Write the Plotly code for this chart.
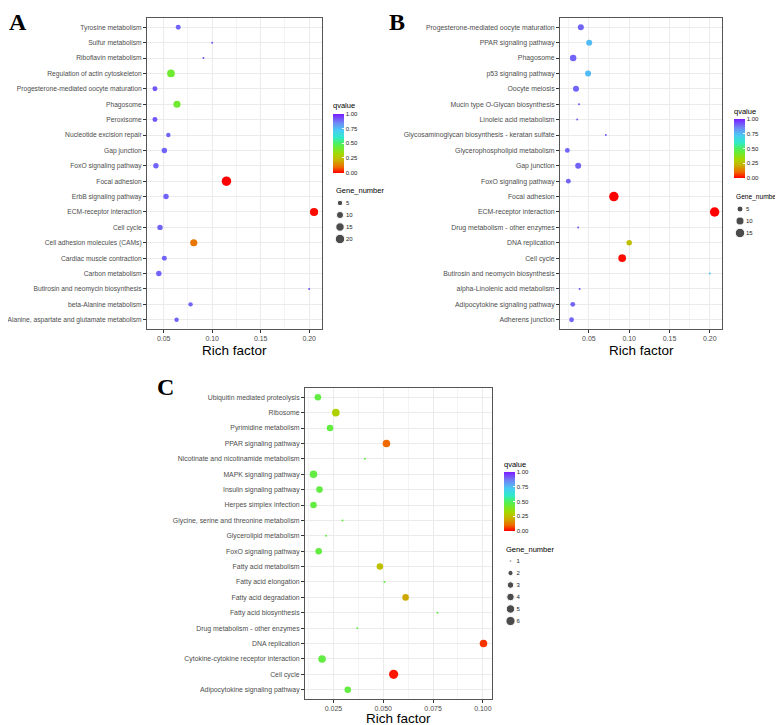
import math
import plotly.graph_objects as go

# the page body has an 8px default margin, so the figure is sized to the
# visible area and reference pixel positions are shifted by OFF
OFF = 8
W, H = 783 - OFF, 725 - OFF

# ---------------- data ----------------
# Panel A (listed top to bottom as in the figure)
path_A = ["Tyrosine metabolism", "Sulfur metabolism", "Riboflavin metabolism",
          "Regulation of actin cytoskeleton", "Progesterone-mediated oocyte maturation",
          "Phagosome", "Peroxisome", "Nucleotide excision repair", "Gap junction",
          "FoxO signaling pathway", "Focal adhesion", "ErbB signaling pathway",
          "ECM-receptor interaction", "Cell cycle", "Cell adhesion molecules (CAMs)",
          "Cardiac muscle contraction", "Carbon metabolism",
          "Butirosin and neomycin biosynthesis", "beta-Alanine metabolism",
          "Alanine, aspartate and glutamate metabolism"]
rich_A = [0.065, 0.100, 0.091, 0.0575, 0.041, 0.0637, 0.041, 0.0548, 0.0507, 0.042,
          0.1147, 0.0524, 0.205, 0.0462, 0.081, 0.0507, 0.045, 0.200, 0.0777, 0.0633]
genes_A = [4, 1, 1, 12, 4, 10, 4, 3, 5, 5, 20, 5, 14, 5, 10, 4, 5, 1, 3, 3]
q_A = [0.90, 0.92, 0.92, 0.42, 0.92, 0.42, 0.92, 0.90, 0.90, 0.90,
       0.00, 0.90, 0.01, 0.90, 0.12, 0.90, 0.90, 0.93, 0.90, 0.90]
legend_genes_A = [5, 10, 15, 20]

# Panel B
path_B = ["Progesterone-mediated oocyte maturation", "PPAR signaling pathway", "Phagosome",
          "p53 signaling pathway", "Oocyte meiosis", "Mucin type O-Glycan biosynthesis",
          "Linoleic acid metabolism", "Glycosaminoglycan biosynthesis - keratan sulfate",
          "Glycerophospholipid metabolism", "Gap junction", "FoxO signaling pathway",
          "Focal adhesion", "ECM-receptor interaction", "Drug metabolism - other enzymes",
          "DNA replication", "Cell cycle", "Butirosin and neomycin biosynthesis",
          "alpha-Linolenic acid metabolism", "Adipocytokine signaling pathway",
          "Adherens junction"]
rich_B = [0.040, 0.0504, 0.0305, 0.049, 0.034, 0.0378, 0.0355, 0.071, 0.0233, 0.0367,
          0.0245, 0.081, 0.206, 0.0367, 0.100, 0.0913, 0.200, 0.0385, 0.030, 0.0285]
genes_B = [5, 5, 6, 5, 5, 1, 1, 1, 3, 5, 3, 15, 15, 1, 4, 9, 1, 1, 3, 3]
q_B = [0.90, 0.75, 0.90, 0.75, 0.90, 0.92, 0.92, 0.92, 0.90, 0.90,
       0.90, 0.00, 0.00, 0.92, 0.25, 0.01, 0.74, 0.92, 0.90, 0.90]
legend_genes_B = [5, 10, 15]

# Panel C
path_C = ["Ubiquitin mediated proteolysis", "Ribosome", "Pyrimidine metabolism",
          "PPAR signaling pathway", "Nicotinate and nicotinamide metabolism",
          "MAPK signaling pathway", "Insulin signaling pathway", "Herpes simplex infection",
          "Glycine, serine and threonine metabolism", "Glycerolipid metabolism",
          "FoxO signaling pathway", "Fatty acid metabolism", "Fatty acid elongation",
          "Fatty acid degradation", "Fatty acid biosynthesis",
          "Drug metabolism - other enzymes", "DNA replication",
          "Cytokine-cytokine receptor interaction", "Cell cycle",
          "Adipocytokine signaling pathway"]
rich_C = [0.0172, 0.0262, 0.0233, 0.0516, 0.0408, 0.0150, 0.0180, 0.0150, 0.0295, 0.0213,
          0.0176, 0.0483, 0.0506, 0.0612, 0.0772, 0.0370, 0.1003, 0.0193, 0.0552, 0.0322]
genes_C = [3, 4, 3, 4, 1, 4, 3, 3, 1, 1, 3, 3, 1, 3, 1, 1, 4, 4, 6, 3]
q_C = [0.45, 0.30, 0.45, 0.10, 0.45, 0.45, 0.45, 0.45, 0.45, 0.45,
       0.45, 0.25, 0.45, 0.20, 0.45, 0.45, 0.05, 0.45, 0.02, 0.45]
legend_genes_C = [1, 2, 3, 4, 5, 6]

qvalue_ticks = [0.0, 0.25, 0.5, 0.75, 1.0]
x_title = "Rich factor"

# ---------------- styling ----------------
FONT = "Liberation Sans"
COLORSCALE = [
    [0.00, "#FF0000"], [0.10, "#EE6A00"], [0.22, "#C8B400"], [0.32, "#A6D800"],
    [0.42, "#70EA30"], [0.50, "#4CF060"], [0.60, "#30EAC8"], [0.72, "#48CCF4"],
    [0.85, "#6E88F4"], [1.00, "#7A1CFF"],
]


def px_x(p):
    return (p - OFF) / W


def px_y(p):
    return 1 - (p - OFF) / H


def size_scale(n, nmin, nmax, dmin=2.0, dmax=9.5):
    t = 0 if nmax == nmin else (n - nmin) / (nmax - nmin)
    return dmin + (dmax - dmin) * math.sqrt(max(t, 0))


def expand(vals, frac=0.05):
    lo, hi = min(vals), max(vals)
    d = (hi - lo) * frac
    return [lo - d, hi + d]


fig = go.Figure()

panels = [
    # name, paths, rich, genes, q, legend, axis id, dmax, x px, y px, dtick, fmt, ylabel font, x-title y px
    ("A", path_A, rich_A, genes_A, q_A, legend_genes_A, "", 9.5, (147, 322), (18, 329), 0.05, ".2f", 6.7, 350),
    ("B", path_B, rich_B, genes_B, q_B, legend_genes_B, "2", 9.5, (560, 722), (18, 329), 0.05, ".2f", 6.9, 350),
    ("C", path_C, rich_C, genes_C, q_C, legend_genes_C, "3", 9.2, (305, 492), (388, 699), 0.025, ".3f", 6.9, 718),
]

# colorbar (left px, bar bottom px) + size-legend placement (reference px)
cbar_pos = {"A": (333, 172.7), "B": (734, 178), "C": (504, 531)}
leg_pos = {"A": (340, 203, 191, 334, 7.5), "B": (740, 209, 197, 734, 6.6), "C": (510.5, 561, 549, 504, 7.5)}
leg_axis = {"A": "4", "B": "5", "C": "6"}

layout_axes = {}
annotations = []

for (name, paths, rich, genes, q, leg_genes, ax, dmax, xd, yd, dtick, fmt, yfs, ty_title) in panels:
    nmin, nmax = min(genes), max(genes)
    ca = "coloraxis" + ax
    fig.add_trace(go.Scatter(
        x=rich, y=paths, mode="markers",
        marker=dict(size=[size_scale(g, nmin, nmax, 2.0, dmax) for g in genes],
                    color=q, coloraxis=ca, line=dict(width=0), opacity=1),
        xaxis="x" + ax, yaxis="y" + ax, showlegend=False, hoverinfo="x+y",
    ))
    n = len(paths)
    layout_axes["xaxis" + ax] = dict(
        domain=[px_x(xd[0]), px_x(xd[1])], anchor="y" + ax, automargin=False,
        range=expand(rich), dtick=dtick, tick0=0, tickformat=fmt,
        showgrid=True, gridcolor="#EBEBEB", gridwidth=1,
        minor=dict(dtick=dtick / 2, tick0=0, showgrid=True, gridcolor="#F4F4F4", gridwidth=0.6),
        showline=True, mirror=True, linecolor="#555555", linewidth=1,
        ticks="outside", ticklen=3, tickwidth=1, tickcolor="#333333",
        tickfont=dict(family=FONT, size=7, color="#4D4D4D"),
        zeroline=False,
    )
    layout_axes["yaxis" + ax] = dict(
        domain=[px_y(yd[1]), px_y(yd[0])], anchor="x" + ax, automargin=False,
        type="category", categoryorder="array", categoryarray=list(reversed(paths)),
        range=[-0.6, n - 1 + 0.6],
        showgrid=True, gridcolor="#EBEBEB", gridwidth=1,
        showline=True, mirror=True, linecolor="#555555", linewidth=1,
        ticks="outside", ticklen=3, tickwidth=1, tickcolor="#333333",
        tickfont=dict(family=FONT, size=yfs, color="#4D4D4D"),
        zeroline=False,
    )
    # x-axis title placed as an annotation under the panel
    annotations.append(dict(text=x_title, x=px_x((xd[0] + xd[1]) / 2), y=px_y(ty_title),
                            xref="paper", yref="paper", xanchor="center", yanchor="middle",
                            showarrow=False, borderpad=0,
                            font=dict(family=FONT, size=13.5, color="#000000")))

    cx, cb = cbar_pos[name]
    layout_axes[ca] = dict(
        cmin=0, cmax=1, colorscale=COLORSCALE,
        colorbar=dict(
            x=px_x(cx), xanchor="left", xpad=0, y=px_y(cb), yanchor="bottom", ypad=0,
            len=73, lenmode="pixels", thickness=11, outlinewidth=0,
            tickvals=qvalue_ticks, tickformat=".2f", ticks="inside", ticklen=2,
            tickcolor="white", tickfont=dict(family=FONT, size=6, color="#222222"),
            title=dict(text="qvalue", side="top", font=dict(family=FONT, size=7.5, color="#000000")),
        ),
    )

    # size legend drawn on an auxiliary hidden axis
    sx, sy0, ty, tx, tfs = leg_pos[name]
    la = leg_axis[name]
    k = len(leg_genes)
    labels = [str(g) for g in leg_genes]
    fig.add_trace(go.Scatter(
        x=[0] * k, y=labels, mode="markers",
        marker=dict(size=[size_scale(g, nmin, nmax, 2.0, dmax) for g in leg_genes], color="black"),
        xaxis="x" + la, yaxis="y" + la, showlegend=False, hoverinfo="skip",
    ))
    fig.add_trace(go.Scatter(
        x=[6] * k, y=labels, mode="text", text=labels, textposition="middle right",
        textfont=dict(family=FONT, size=6, color="#222222"),
        xaxis="x" + la, yaxis="y" + la, showlegend=False, hoverinfo="skip",
    ))
    top = sy0 - 6
    bot = sy0 + 12 * k - 6
    layout_axes["xaxis" + la] = dict(domain=[px_x(sx - 10), px_x(sx + 30)], range=[-10, 30],
                                     visible=False, anchor="y" + la, fixedrange=True)
    layout_axes["yaxis" + la] = dict(domain=[px_y(bot), px_y(top)], type="category",
                                     categoryorder="array", categoryarray=labels,
                                     range=[k - 0.5, -0.5], visible=False, anchor="x" + la,
                                     fixedrange=True)
    annotations.append(dict(text="Gene_number", x=px_x(tx), y=px_y(ty), xref="paper", yref="paper",
                            xanchor="left", yanchor="middle", showarrow=False,
                            font=dict(family=FONT, size=tfs, color="#000000")))

# panel letters (anchored at the top so the text box stays inside the figure)
for letter, lx, ly in [("A", 8, 8), ("B", 388, 8), ("C", 156, 373)]:
    annotations.append(dict(text="<b>%s</b>" % letter, x=px_x(lx), y=px_y(ly), xref="paper", yref="paper",
                            xanchor="left", yanchor="top", showarrow=False, borderpad=0,
                            font=dict(family="Liberation Serif", size=24, color="#000000")))

fig.update_layout(
    width=W, height=H, margin=dict(l=0, r=0, t=0, b=0, autoexpand=False),
    paper_bgcolor="white", plot_bgcolor="white",
    showlegend=False, font=dict(family=FONT),
    annotations=annotations,
    **layout_axes,
)

fig.write_html("out.html")
